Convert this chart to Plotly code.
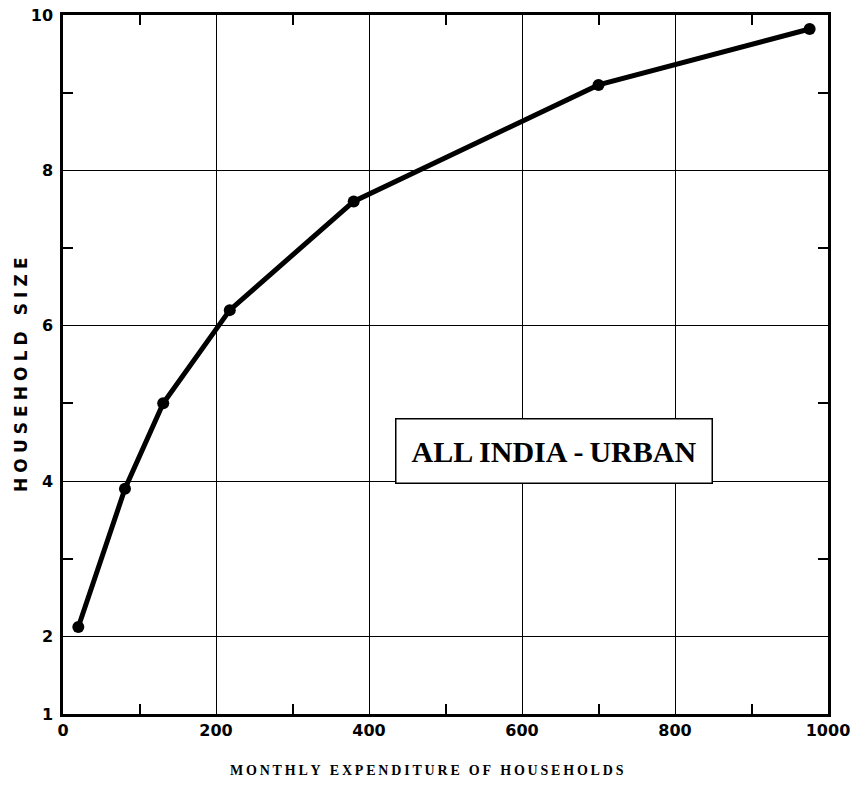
import plotly.graph_objects as go

expenditure = [20, 81, 131, 218, 380, 700, 976]
household_size = [2.12, 3.9, 5.0, 6.2, 7.6, 9.1, 9.82]

x_tickvals = [0, 200, 400, 600, 800, 1000]
x_ticktext = ["0", "200", "400", "600", "800", "1000"]
y_tickvals = [1, 2, 4, 6, 8, 10]
y_ticktext = ["1", "2", "4", "6", "8", "10"]
x_minor = [100, 300, 500, 700, 900]
y_minor = [3, 5, 7, 9]

x_title = "MONTHLY EXPENDITURE OF HOUSEHOLDS"
y_title = "HOUSEHOLD SIZE"
label = "ALL INDIA\u2009-\u2009URBAN"

def spaced(s, sep="\u2009"):
    return sep.join(list(s))

fig = go.Figure()
fig.add_trace(go.Scatter(
    x=expenditure, y=household_size, mode="lines+markers",
    line=dict(color="black", width=5),
    marker=dict(color="black", size=12),
    showlegend=False, hoverinfo="skip"))

tickfont = dict(family="DejaVu Sans", size=16, color="black", weight="bold")

fig.update_xaxes(
    range=[0, 1000], tickvals=x_tickvals, ticktext=x_ticktext,
    showgrid=True, gridcolor="black", gridwidth=1.3,
    showline=True, linecolor="black", linewidth=2.5, mirror="allticks",
    ticks="", tickfont=tickfont, ticklabelstandoff=0, zeroline=False,
    automargin=False, ticklabeloverflow="allow",
    minor=dict(tickvals=x_minor, ticks="inside", ticklen=10, tickwidth=1.5,
               tickcolor="black", showgrid=False))
fig.update_yaxes(
    range=[1, 10], tickvals=y_tickvals, ticktext=y_ticktext,
    showgrid=True, gridcolor="black", gridwidth=1.3,
    showline=True, linecolor="black", linewidth=2.5, mirror="allticks",
    ticks="", tickfont=tickfont, ticklabelstandoff=4, zeroline=False,
    automargin=False, ticklabeloverflow="allow",
    minor=dict(tickvals=y_minor, ticks="inside", ticklen=10, tickwidth=1.5,
               tickcolor="black", showgrid=False))

fig.add_annotation(
    x=642, y=4.38, xref="x", yref="y", text="<b>" + label + "</b>",
    showarrow=False, font=dict(family="Liberation Serif", size=30, color="black"),
    bgcolor="white", bordercolor="black", borderwidth=1.5, borderpad=0,
    width=315, height=63, align="center", valign="middle")

fig.add_annotation(
    x=-0.054, y=0.486, xref="paper", yref="paper",
    text="<b>" + spaced(y_title, "\u2009\u200a") + "</b>", textangle=-90,
    showarrow=False, font=dict(family="DejaVu Sans", size=17, color="black"),
    xanchor="center", yanchor="middle")

fig.add_annotation(
    x=0.476, y=-0.0815, xref="paper", yref="paper",
    text="<b>" + spaced(x_title, "\u2009") + "</b>",
    showarrow=False, font=dict(family="Liberation Serif", size=14, color="black"),
    xanchor="center", yanchor="middle")

fig.update_layout(
    width=859, height=787,
    margin=dict(l=63, r=31, t=15, b=73, autoexpand=False),
    paper_bgcolor="white", plot_bgcolor="white")

fig.write_html("out.html", config={"displayModeBar": False},
               post_script="document.body.style.margin='0';")
